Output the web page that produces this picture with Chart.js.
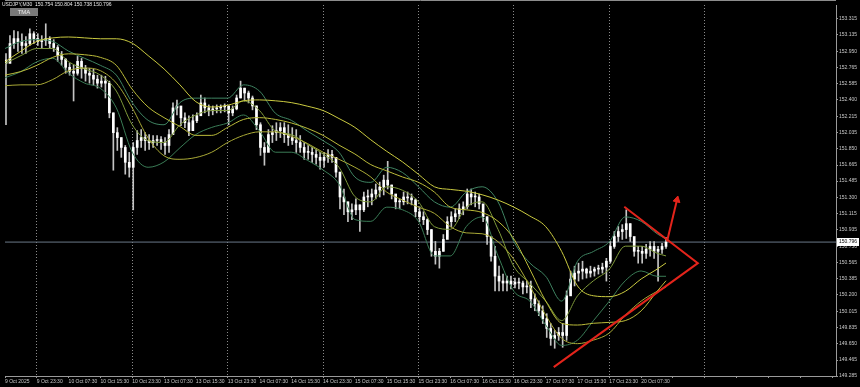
<!DOCTYPE html>
<html>
<head>
<meta charset="utf-8">
<title>USDJPY M30</title>
<script src="https://cdn.jsdelivr.net/npm/chart.js@4.4.1/dist/chart.umd.min.js"></script>
<style>
  html, body { margin: 0; padding: 0; background: #000; overflow: hidden; }
  #wrap { width: 860px; height: 387px; }
</style>
</head>
<body>
<div id="wrap"><canvas id="chart" width="860" height="387"></canvas></div>
<script>
// --- STATIC CHART CONFIG ---
Chart.defaults.animation = false;

// Header / quote of the last bar
const symbolText = 'USDJPY,M30';
const lastQuote = [150.754, 150.804, 150.738, 150.796];   // O H L C
const lastPrice = 150.796;
const firstOpen = 152.85;

// Candles (one every 2 M30 bars)
const highs = [
  152.924, 153.125, 153.181, 153.170, 153.147, 153.114, 153.203, 153.170, 153.147, 153.125,
  153.259, 153.114, 153.080, 153.014, 152.947, 152.868, 152.812, 152.790, 152.891, 152.868,
  152.790, 152.757, 152.745, 152.679, 152.679, 152.667, 152.612, 152.254, 152.087, 151.975,
  151.886, 151.808, 151.919, 152.053, 152.065, 152.031, 152.009, 151.998, 151.998, 151.986,
  151.975, 152.065, 152.366, 152.399, 152.288, 152.254, 152.221, 152.232, 152.254, 152.455,
  152.422, 152.344, 152.332, 152.344, 152.344, 152.355, 152.332, 152.332, 152.455, 152.612,
  152.533, 152.500, 152.444, 152.332, 152.143, 151.919, 152.065, 152.109, 152.143, 152.143,
  152.143, 152.120, 152.087, 152.065, 151.998, 151.919, 151.886, 151.864, 151.841, 151.808,
  151.808, 151.841, 151.830, 151.752, 151.585, 151.395, 151.250, 151.227, 151.283, 151.216,
  151.361, 151.384, 151.395, 151.451, 151.473, 151.551, 151.707, 151.440, 151.305, 151.283,
  151.361, 151.361, 151.339, 151.283, 151.194, 151.138, 151.060, 150.937, 150.803, 150.725,
  150.881, 151.082, 151.138, 151.171, 151.227, 151.250, 151.395, 151.395, 151.361, 151.339,
  151.216, 151.082, 150.859, 150.747, 150.524, 150.435, 150.412, 150.412, 150.390, 150.390,
  150.356, 150.356, 150.356, 150.211, 150.133, 150.077, 149.988, 149.877, 149.798, 149.832,
  149.877, 150.245, 150.468, 150.524, 150.558, 150.580, 150.502, 150.524, 150.513, 150.535,
  150.558, 150.613, 150.803, 150.915, 150.971, 150.993, 151.160, 151.004, 150.826, 150.747,
  150.747, 150.770, 150.803, 150.803, 150.747, 150.781, 150.848
];
const lows = [
  152.120, 152.902, 152.980, 152.947, 152.924, 152.924, 153.014, 153.036, 153.014, 152.980,
  153.014, 152.980, 152.947, 152.835, 152.790, 152.701, 152.679, 152.388, 152.679, 152.645,
  152.612, 152.589, 152.567, 152.533, 152.545, 152.422, 152.198, 151.607, 151.830, 151.752,
  151.562, 151.529, 151.160, 151.785, 151.864, 151.830, 151.841, 151.864, 151.886, 151.841,
  151.785, 151.808, 152.065, 152.232, 152.109, 152.087, 151.998, 152.087, 152.143, 152.254,
  152.254, 152.221, 152.232, 152.254, 152.254, 152.265, 152.120, 152.221, 152.288, 152.422,
  152.388, 152.366, 152.288, 152.065, 151.774, 151.663, 151.841, 151.919, 151.942, 151.975,
  151.919, 151.886, 151.897, 151.808, 151.808, 151.730, 151.730, 151.696, 151.674, 151.618,
  151.640, 151.696, 151.696, 151.529, 151.171, 151.104, 151.026, 151.049, 151.104, 150.915,
  151.138, 151.194, 151.216, 151.283, 151.305, 151.328, 151.395, 151.283, 151.171, 151.171,
  151.216, 151.227, 151.216, 151.082, 151.026, 150.993, 150.881, 150.636, 150.547, 150.502,
  150.692, 150.859, 150.971, 151.026, 151.060, 151.104, 151.171, 151.216, 151.194, 151.171,
  151.026, 150.770, 150.580, 150.245, 150.245, 150.245, 150.245, 150.267, 150.278, 150.267,
  150.211, 150.222, 150.055, 150.021, 149.966, 149.877, 149.720, 149.631, 149.598, 149.687,
  149.609, 149.687, 150.222, 150.301, 150.356, 150.379, 150.390, 150.401, 150.412, 150.435,
  150.446, 150.356, 150.558, 150.725, 150.803, 150.826, 150.837, 150.803, 150.636, 150.558,
  150.558, 150.613, 150.636, 150.613, 150.356, 150.669, 150.725
];
const closes = [
  152.812, 153.036, 153.092, 153.058, 153.014, 153.036, 153.147, 153.092, 153.058, 153.069,
  153.092, 153.036, 152.991, 152.902, 152.857, 152.768, 152.723, 152.701, 152.835, 152.757,
  152.701, 152.679, 152.634, 152.589, 152.612, 152.589, 152.254, 152.031, 151.975, 151.864,
  151.696, 151.640, 151.864, 151.942, 151.975, 151.942, 151.919, 151.942, 151.953, 151.919,
  151.886, 152.009, 152.310, 152.332, 152.198, 152.143, 152.053, 152.165, 152.221, 152.366,
  152.310, 152.277, 152.299, 152.310, 152.321, 152.332, 152.254, 152.299, 152.422, 152.533,
  152.478, 152.422, 152.332, 152.120, 151.864, 151.808, 152.009, 152.031, 152.053, 152.087,
  152.009, 151.975, 151.942, 151.919, 151.864, 151.808, 151.808, 151.785, 151.752, 151.718,
  151.752, 151.785, 151.752, 151.585, 151.305, 151.250, 151.138, 151.160, 151.216, 151.160,
  151.305, 151.305, 151.339, 151.384, 151.417, 151.495, 151.440, 151.339, 151.250, 151.250,
  151.305, 151.294, 151.272, 151.138, 151.082, 151.049, 150.937, 150.692, 150.636, 150.692,
  150.826, 151.026, 151.082, 151.116, 151.171, 151.194, 151.339, 151.305, 151.305, 151.227,
  151.082, 150.859, 150.636, 150.412, 150.356, 150.334, 150.356, 150.323, 150.345, 150.334,
  150.290, 150.301, 150.155, 150.100, 150.021, 149.932, 149.821, 149.709, 149.742, 149.776,
  149.742, 150.189, 150.379, 150.446, 150.468, 150.491, 150.446, 150.468, 150.491, 150.491,
  150.513, 150.580, 150.747, 150.859, 150.915, 150.937, 151.004, 150.859, 150.692, 150.692,
  150.669, 150.714, 150.747, 150.692, 150.714, 150.747, 150.796
];

// TMA bands, sampled every 8 bars (bar index)
const bandX = [0, 8, 16, 24, 32, 40, 48, 56, 64, 72, 80, 88, 96, 104, 112, 120, 128, 136, 144, 152,
  160, 168, 176, 184, 192, 200, 208, 216, 224, 232, 240, 248, 256, 264, 272, 280, 288, 296, 304, 312,
  320, 328, 332.5];
const slowUpper = [152.83, 152.95, 153.06, 153.10, 153.11, 153.10, 153.09, 153.09, 153.04, 152.90,
  152.75, 152.57, 152.38, 152.32, 152.34, 152.39, 152.40, 152.39, 152.37, 152.33,
  152.28, 152.19, 152.09, 151.95, 151.82, 151.70, 151.56, 151.42, 151.39, 151.37,
  151.33, 151.27, 151.19, 151.09, 150.97, 150.69, 150.30, 150.19, 150.18, 150.24,
  150.38, 150.49, 150.56];
const slowMid = [152.68, 152.72, 152.79, 152.88, 152.92, 152.91, 152.88, 152.79, 152.52, 152.32,
  152.20, 152.10, 152.00, 152.00, 152.09, 152.18, 152.20, 152.18, 152.14, 152.08,
  152.00, 151.89, 151.79, 151.67, 151.60, 151.53, 151.47, 151.36, 151.19, 151.16,
  151.13, 151.03, 150.83, 150.49, 150.13, 149.88, 149.86, 149.88, 149.89, 149.91,
  150.02, 150.24, 150.36];
const slowLower = [152.56, 152.57, 152.57, 152.63, 152.73, 152.76, 152.73, 152.59, 152.31, 151.97,
  151.77, 151.73, 151.75, 151.81, 151.92, 152.00, 152.04, 152.04, 151.99, 151.91,
  151.81, 151.73, 151.64, 151.53, 151.36, 151.27, 151.19, 151.12, 150.97, 150.90,
  150.89, 150.80, 150.60, 150.30, 149.97, 149.71, 149.65, 149.69, 149.77, 149.97,
  150.13, 150.24, 150.29];
const fastUpper = [152.98, 153.06, 153.08, 153.06, 152.95, 152.87, 152.79, 152.68, 152.37, 152.17,
  152.12, 152.37, 152.42, 152.42, 152.42, 152.57, 152.50, 152.25, 152.17, 152.05,
  151.94, 151.81, 151.53, 151.47, 151.64, 151.58, 151.42, 151.25, 151.19, 151.36,
  151.42, 151.25, 150.80, 150.56, 150.41, 150.13, 150.58, 150.69, 150.80, 151.08,
  151.03, 150.89, 150.83];
const fastMid = [152.81, 152.90, 152.98, 152.98, 152.83, 152.75, 152.68, 152.50, 152.12, 151.94,
  151.92, 152.12, 152.23, 152.28, 152.28, 152.39, 152.28, 152.05, 152.01, 151.90,
  151.79, 151.64, 151.31, 151.25, 151.42, 151.38, 151.25, 150.97, 150.94, 151.19,
  151.25, 150.94, 150.52, 150.33, 150.13, 149.91, 150.19, 150.36, 150.49, 150.75,
  150.75, 150.67, 150.64];
const fastLower = [152.65, 152.72, 152.83, 152.87, 152.70, 152.59, 152.53, 152.31, 151.81, 151.64,
  151.70, 151.86, 152.01, 152.09, 152.14, 152.23, 152.05, 151.81, 151.81, 151.72,
  151.61, 151.45, 151.05, 151.03, 151.19, 151.16, 151.03, 150.64, 150.64, 150.97,
  151.08, 150.64, 150.24, 150.13, 149.86, 149.63, 149.69, 149.91, 150.13, 150.36,
  150.47, 150.41, 150.41];

// Drawn annotations (bar index / price): open wedge + arrow
const wedgeX = [311.5, 348.5, 276];
const wedgeY = [151.194, 150.558, 149.385];
const arrowX = [333, 338];
const arrowY = [150.803, 151.272];

// Axes
const xTickLabels = ['9 Oct 2025', '9 Oct 23:30', '10 Oct 07:30', '10 Oct 15:30', '10 Oct 23:30',
  '13 Oct 07:30', '13 Oct 15:30', '13 Oct 23:30', '14 Oct 07:30', '14 Oct 15:30', '14 Oct 23:30',
  '15 Oct 07:30', '15 Oct 15:30', '15 Oct 23:30', '16 Oct 07:30', '16 Oct 15:30', '16 Oct 23:30',
  '17 Oct 07:30', '17 Oct 15:30', '17 Oct 23:30', '20 Oct 07:30'];
const separators = [16, 64, 112, 160, 208, 256, 304, 352];
const yTickValues = [153.315, 153.135, 152.950, 152.765, 152.585, 152.400, 152.215, 152.035,
  151.850, 151.665, 151.485, 151.300, 151.115, 150.935, 150.750, 150.565, 150.385, 150.200,
  150.015, 149.835, 149.650, 149.465, 149.285];

const FONT = { family: '"Liberation Sans", Arial, sans-serif', size: 5 };

function pts(xs, ys){ return xs.map((x, i) => ({ x, y: ys[i] })); }

function bandSet(label, values, color){
  return {
    type: 'line', label, data: pts(bandX, values),
    borderColor: color, borderWidth: 1, pointRadius: 0,
    cubicInterpolationMode: 'monotone', order: 1
  };
}

// header, TMA button, price tag, top frame
const overlayPlugin = {
  id: 'mtOverlay',
  afterDraw(chart){
    const { ctx, chartArea, scales } = chart;
    ctx.save();
    ctx.strokeStyle = '#8c8c8c';
    ctx.lineWidth = 1;
    ctx.beginPath();
    ctx.moveTo(chartArea.left, 0.5);
    ctx.lineTo(chartArea.right, 0.5);
    ctx.stroke();

    ctx.font = '5px "Liberation Sans", Arial, sans-serif';
    ctx.fillStyle = '#e6e6e6';
    ctx.textBaseline = 'middle';
    ctx.textAlign = 'left';
    ctx.fillText(symbolText + '  ' + lastQuote.map(v => v.toFixed(3)).join(' '), 2, 4.5);

    ctx.fillStyle = '#7a7a7a';
    ctx.fillRect(10, 8, 28, 8);
    ctx.fillStyle = '#ececec';
    ctx.font = '6px "Liberation Sans", Arial, sans-serif';
    ctx.textAlign = 'center';
    ctx.fillText('TMA', 24, 12.5);

    const y = scales.y.getPixelForValue(lastPrice);
    ctx.fillStyle = '#ffffff';
    ctx.fillRect(chartArea.right + 1, Math.round(y) - 4, 22, 8);
    ctx.fillStyle = '#000000';
    ctx.textAlign = 'left';
    ctx.font = '5px "Liberation Sans", Arial, sans-serif';
    ctx.fillText(lastPrice.toFixed(3), chartArea.right + 3, Math.round(y));
    ctx.restore();
  }
};

function makeChart(){
  const candleX = closes.map((_, k) => 2 * k + 0.5);
  const opens = closes.map((c, k) => k ? closes[k - 1] : firstOpen);

  new Chart(document.getElementById('chart'), {
    type: 'bar',
    data: {
      datasets: [
        { type: 'line', label: 'Wedge', data: pts(wedgeX, wedgeY),
          borderColor: '#e3241b', borderWidth: 2, pointRadius: 0, tension: 0, order: 0 },
        { type: 'line', label: 'Arrow', data: pts(arrowX, arrowY),
          borderColor: '#e3241b', borderWidth: 2, tension: 0, order: 0,
          pointRadius: [0, 4], pointStyle: 'triangle', pointRotation: [0, 13],
          pointBackgroundColor: '#e3241b', pointBorderColor: '#e3241b', pointBorderWidth: 1 },
        bandSet('TMA slow upper', slowUpper, '#cbcb40'),
        bandSet('TMA slow mid', slowMid, '#bcbc3a'),
        bandSet('TMA slow lower', slowLower, '#a9a936'),
        bandSet('TMA fast upper', fastUpper, '#3f8462'),
        bandSet('TMA fast mid', fastMid, '#7f9a3a'),
        bandSet('TMA fast lower', fastLower, '#3a7c56'),
        { type: 'bar', label: 'Body', data: candleX.map((x, k) => ({ x, y: [opens[k], closes[k]] })),
          backgroundColor: '#ffffff', barThickness: 2, minBarLength: 1, grouped: false, order: 2 },
        { type: 'bar', label: 'Wick', data: candleX.map((x, k) => ({ x, y: [lows[k], highs[k]] })),
          backgroundColor: '#c4c4c4', barThickness: 1, grouped: false, order: 3 },
        { type: 'line', label: 'Bid', data: [{ x: 0, y: lastPrice }, { x: 418, y: lastPrice }],
          borderColor: '#6a7888', borderWidth: 1, pointRadius: 0, order: 4 }
      ]
    },
    options: {
      responsive: false,
      animation: false,
      events: [],
      layout: { padding: { top: 1, left: 0, right: 0, bottom: 0 } },
      plugins: { legend: { display: false }, tooltip: { enabled: false } },
      scales: {
        x: {
          type: 'linear', min: 0, max: 418, offset: false,
          afterBuildTicks: s => { s.ticks = []; for (let v = 0; v <= 416; v += 16) s.ticks.push({ value: v }); },
          afterFit: s => { s.height = 11; },
          grid: {
            offset: false, drawOnChartArea: true, lineWidth: 1,
            color: c => (c.tick && separators.includes(c.tick.value)) ? '#8a8a8a' : 'rgba(0,0,0,0)',
            tickColor: '#9a9a9a', tickLength: 2
          },
          border: { display: true, color: '#9a9a9a', dash: [1, 2] },
          ticks: {
            align: 'start', maxRotation: 0, autoSkip: false, padding: 1,
            color: '#c8c8c8', font: FONT,
            callback: v => xTickLabels[v / 16] || ''
          }
        },
        y: {
          position: 'right', min: 149.285, max: 153.471,
          afterBuildTicks: s => { s.ticks = yTickValues.map(v => ({ value: v })); },
          afterFit: s => { s.width = 24; },
          grid: { drawOnChartArea: false, tickLength: 2, color: '#9a9a9a' },
          border: { display: true, color: '#9a9a9a' },
          ticks: { padding: 1, autoSkip: false, color: '#c8c8c8', font: FONT,
            callback: v => v.toFixed(3) }
        }
      }
    },
    plugins: [overlayPlugin]
  });
}

document.addEventListener('DOMContentLoaded', makeChart);
</script>
</body>
</html>
